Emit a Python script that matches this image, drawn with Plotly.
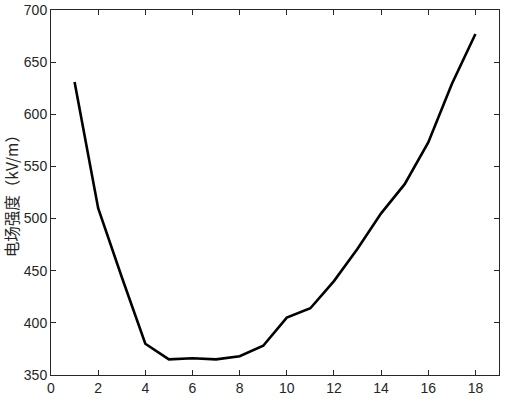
import plotly.graph_objects as go

x_vals = list(range(1, 19))
field_strength = [631, 510, 444, 380, 365, 366, 365, 368, 378, 405, 414, 440, 471, 505, 533, 573, 629, 677]
x_ticks = [0, 2, 4, 6, 8, 10, 12, 14, 16, 18]
y_ticks = [350, 400, 450, 500, 550, 600, 650, 700]
y_label = "电场强度（kV/m）"

fig = go.Figure()
fig.add_trace(go.Scatter(x=x_vals, y=field_strength, mode="lines",
                         line=dict(color="black", width=2.6), showlegend=False,
                         hoverinfo="skip"))

axis_common = dict(showline=True, linecolor="#262626", linewidth=1, mirror="ticks",
                   ticks="inside", ticklen=5, tickcolor="#262626", tickwidth=1,
                   showgrid=False, zeroline=False,
                   tickfont=dict(family="Liberation Sans, Arial", size=14, color="#262626"))

fig.update_xaxes(range=[0, 19], tickvals=x_ticks, **axis_common)
fig.update_yaxes(range=[350, 700], tickvals=y_ticks, **axis_common)

fig.add_annotation(text=y_label, xref="paper", yref="paper", x=-0.09, y=0.5,
                   textangle=-90, showarrow=False, xanchor="center", yanchor="middle",
                   font=dict(family="Noto Sans CJK SC", size=15.5, color="#262626"))

fig.update_layout(width=505, height=396, margin=dict(l=51, r=6, t=10, b=21, autoexpand=False),
                  plot_bgcolor="white", paper_bgcolor="white")

fig.write_html("out.html", config={"responsive": False, "displayModeBar": False},
               post_script="document.body.style.margin='0';document.body.style.overflow='hidden';")
